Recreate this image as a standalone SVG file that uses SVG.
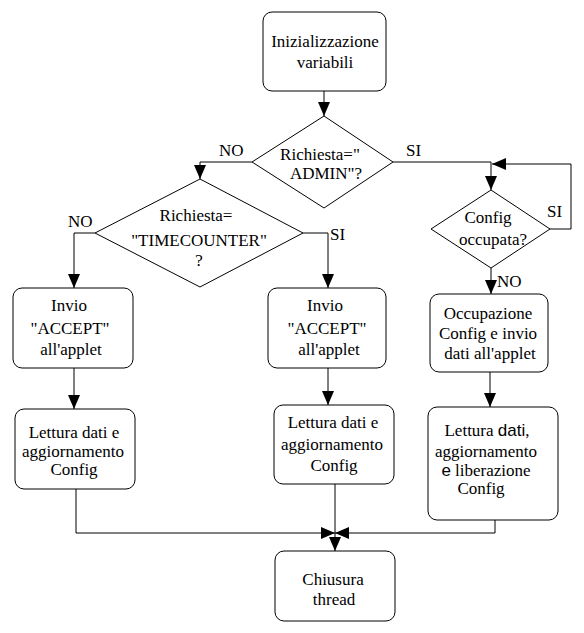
<svg xmlns="http://www.w3.org/2000/svg" width="584" height="633" viewBox="0 0 584 633">
<style>
.n{fill:#fff;stroke:#000;stroke-width:1}
.t{text-anchor:middle}
.c{fill:none;stroke:#000;stroke-width:1}
</style>
<defs>
<marker id="a" markerUnits="userSpaceOnUse" markerWidth="14" markerHeight="12" refX="14" refY="6" orient="auto">
<path d="M0,0 L14,6 L0,12 z" fill="#000"/>
</marker>
</defs>
<rect width="584" height="633" fill="#fff"/>
<g font-family="Liberation Serif, Times New Roman, serif" font-size="17" fill="#000">
<g id="connectors">
<path class="c" d="M324,91 V116" marker-end="url(#a)"/>
<path class="c" d="M252,162 H200 V179" marker-end="url(#a)"/>
<path class="c" d="M393,162 H491 V190" marker-end="url(#a)"/>
<path class="c" d="M95,233 H74 V288" marker-end="url(#a)"/>
<path class="c" d="M303,233 H328 V288" marker-end="url(#a)"/>
<path class="c" d="M550,229 H571 V164 H492" marker-end="url(#a)"/>
<path class="c" d="M491,268 V294" marker-end="url(#a)"/>
<path class="c" d="M74,368 V409" marker-end="url(#a)"/>
<path class="c" d="M328,368 V405" marker-end="url(#a)"/>
<path class="c" d="M490,372 V407" marker-end="url(#a)"/>
<path class="c" d="M76,489 V533 H335" marker-end="url(#a)"/>
<path class="c" d="M495,520 V533 H335" marker-end="url(#a)"/>
<path class="c" d="M335,484 V551" marker-end="url(#a)"/>
<text x="219" y="156">NO</text>
<text x="406" y="156">SI</text>
<text x="68" y="227">NO</text>
<text x="330" y="240">SI</text>
<text x="547" y="217">SI</text>
<text x="497" y="287">NO</text>
</g>
<g id="init">
<rect class="n" x="263" y="12" width="123" height="79" rx="9"/>
<text class="t" x="325" y="47">Inizializzazione</text>
<text class="t" x="325" y="68">variabili</text>
</g>
<g id="admin">
<polygon class="n" points="324,116 393,162 324,208 252,162"/>
<text class="t" x="320" y="160">Richiesta="</text>
<text class="t" x="326" y="179">ADMIN"?</text>
</g>
<g id="timecounter">
<polygon class="n" points="200,179 303,233 200,287 95,233"/>
<text class="t" x="196" y="221">Richiesta=</text>
<text class="t" x="199" y="246">"TIMECOUNTER"</text>
<text class="t" x="199" y="266">?</text>
</g>
<g id="occupata">
<polygon class="n" points="491,190 550,229 491,268 431,229"/>
<text class="t" x="488" y="223">Config</text>
<text class="t" x="493" y="245">occupata?</text>
</g>
<g id="accept1">
<rect class="n" x="13" y="288" width="120" height="80" rx="9"/>
<text class="t" x="69" y="311">Invio</text>
<text class="t" x="70" y="334">"ACCEPT"</text>
<text class="t" x="71" y="355">all'applet</text>
</g>
<g id="accept2">
<rect class="n" x="268" y="288" width="118" height="80" rx="9"/>
<text class="t" x="325" y="311">Invio</text>
<text class="t" x="327" y="334">"ACCEPT"</text>
<text class="t" x="329" y="355">all'applet</text>
</g>
<g id="occupazione">
<rect class="n" x="430" y="294" width="118" height="78" rx="9"/>
<text class="t" x="488" y="319">Occupazione</text>
<text class="t" x="488" y="339">Config e invio</text>
<text class="t" x="490" y="359">dati all'applet</text>
</g>
<g id="lettura1">
<rect class="n" x="15" y="409" width="120" height="80" rx="9"/>
<text class="t" x="74" y="438">Lettura dati e</text>
<text class="t" x="73" y="457">aggiornamento</text>
<text class="t" x="74" y="475">Config</text>
</g>
<g id="lettura2">
<rect class="n" x="274" y="405" width="120" height="79" rx="9"/>
<text class="t" x="333" y="428">Lettura dati e</text>
<text class="t" x="332" y="450">aggiornamento</text>
<text class="t" x="334" y="471">Config</text>
</g>
<g id="lettura3">
<rect class="n" x="428" y="407" width="130" height="113" rx="9"/>
<text class="t" x="487" y="436">Lettura <tspan font-family="Liberation Sans, Arial, sans-serif">dati</tspan>,</text>
<text class="t" x="486" y="457">aggiornamento</text>
<text class="t" x="486" y="476"><tspan font-family="Liberation Sans, Arial, sans-serif">e</tspan> liberazione</text>
<text class="t" x="481" y="494">Config</text>
</g>
<g id="chiusura">
<rect class="n" x="275" y="551" width="120" height="70" rx="9"/>
<text class="t" x="333" y="585">Chiusura</text>
<text class="t" x="334" y="605">thread</text>
</g>
</g>
</svg>
